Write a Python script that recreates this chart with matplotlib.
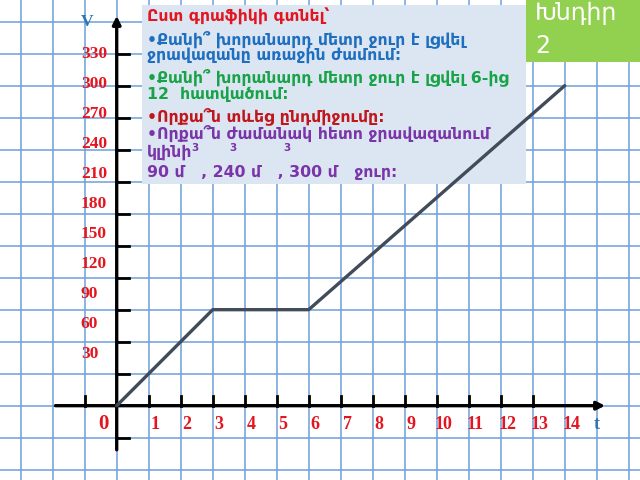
import matplotlib.pyplot as plt
from matplotlib.patches import Rectangle

# data: time (hours) and volume of water (m3)
t = [0, 3, 6, 14]
v = [0, 90, 90, 300]

x_labels = ['1', '2', '3', '4', '5', '6', '7', '8', '9', '10', '11', '12', '13', '14']
y_labels = [30, 60, 90, 120, 150, 180, 210, 240, 270, 300, 330]

question_lines = [
    ('Ըստ գրաֆիկի գտնել՝', '#e3161f'),
    ('•Քանի՞ խորանարդ մետր ջուր է լցվել', '#1f6fc0'),
    ('ջրավազանը առաջին ժամում:', '#1f6fc0'),
    ('•Քանի՞ խորանարդ մետր ջուր է լցվել 6-ից', '#18a348'),
    ('12  հատվածում:', '#18a348'),
    ('•Որքա՞ն տևեց ընդմիջումը:', '#c0161c'),
    ('•Որքա՞ն ժամանակ հետո ջրավազանում', '#7a35a8'),
    ('կլինի', '#7a35a8'),
    ('90 մ   , 240 մ   , 300 մ   ջուր:', '#7a35a8'),
]

plt.rcParams['font.family'] = ['DejaVu Sans']

fig = plt.figure(figsize=(6.4, 4.8), dpi=100)
ax = fig.add_axes([0, 0, 1, 1])

# 32 px per hour, 32 px per 30 m3, origin near pixel (117, 406)
ax.set_xlim(-3.647, 16.353)
ax.set_ylim(-69.66, 380.3)

# squared paper
ax.set_xticks(range(-3, 17))
ax.set_yticks(range(-60, 390, 30))
ax.tick_params(length=0, labelbottom=False, labelleft=False)
ax.grid(True, color='#6a9fdb', linewidth=1.2, alpha=0.9)
ax.set_axisbelow(True)
for s in ax.spines.values():
    s.set_visible(False)

# question box and title box
ax.add_patch(Rectangle((0.222, 0.6167), 0.6, 0.373, transform=ax.transAxes,
                       facecolor='#dce6f2', edgecolor='none', zorder=2))
ax.add_patch(Rectangle((0.822, 0.871), 0.178, 0.129, transform=ax.transAxes,
                       facecolor='#92d050', edgecolor='none', zorder=2))
ax.text(0.836, 0.972, 'Խնդիր', transform=ax.transAxes, color='white',
        fontsize=17, va='center', ha='left', zorder=3)
ax.text(0.836, 0.904, '2', transform=ax.transAxes, color='white',
        fontsize=17, va='center', ha='left', zorder=3)

# axes with arrows
ax.annotate('', xy=(15.35, 0), xytext=(-2.0, 0),
            arrowprops=dict(arrowstyle='-|>', color='black', lw=2.4, mutation_scale=12),
            zorder=4)
ax.annotate('', xy=(0, 368), xytext=(0, -44),
            arrowprops=dict(arrowstyle='-|>', color='black', lw=2.4, mutation_scale=12),
            zorder=4)
for k in [-1] + list(range(1, 14)):
    ax.plot([k, k], [0, 9.4], color='black', lw=2, zorder=4)
for k in [-30] + y_labels:
    ax.plot([0, 0.37], [k, k], color='black', lw=2, zorder=4)

# the graph
ax.plot(t, v, color='#414b5a', lw=2.4, zorder=5, solid_capstyle='round')

# tick labels
serif = ['Liberation Serif', 'DejaVu Serif']
for i, lab in enumerate(x_labels):
    ax.text(i + 1 + 0.2, -18, lab, color='#e3161f', fontsize=13, fontweight='bold',
            family=serif, ha='center', va='center', zorder=6)
ax.text(-0.43, -17, '0', color='#e3161f', fontsize=15, fontweight='bold',
        family=serif, ha='center', va='center', zorder=6)
for val in y_labels:
    ax.text(-1.12, (val + 22) * 0.9375, str(val), color='#e3161f', fontsize=12.5,
            fontweight='bold', family=serif, ha='left', va='center', zorder=6)
ax.text(-0.92, 360, 'V', color='#2e75b6', fontsize=12.5, fontweight='bold',
        family=serif, ha='center', va='center', zorder=6)
ax.text(15.0, -18, 't', color='#2e75b6', fontsize=13, fontweight='bold',
        family=serif, ha='center', va='center', zorder=6)

# questions
line_y = [0.965, 0.918, 0.885, 0.839, 0.804, 0.758, 0.722, 0.683, 0.640]
for (txt, col), yy in zip(question_lines, line_y):
    ax.text(0.229, yy, txt, transform=ax.transAxes, color=col, fontsize=11.3,
            fontweight='bold', ha='left', va='center', zorder=3)
for xx in [0.305, 0.364, 0.448]:
    ax.text(xx, 0.692, '3', transform=ax.transAxes, color='#7a35a8', fontsize=7.5,
            fontweight='bold', ha='center', va='center', zorder=3)

fig.savefig('out.png', dpi=100)
